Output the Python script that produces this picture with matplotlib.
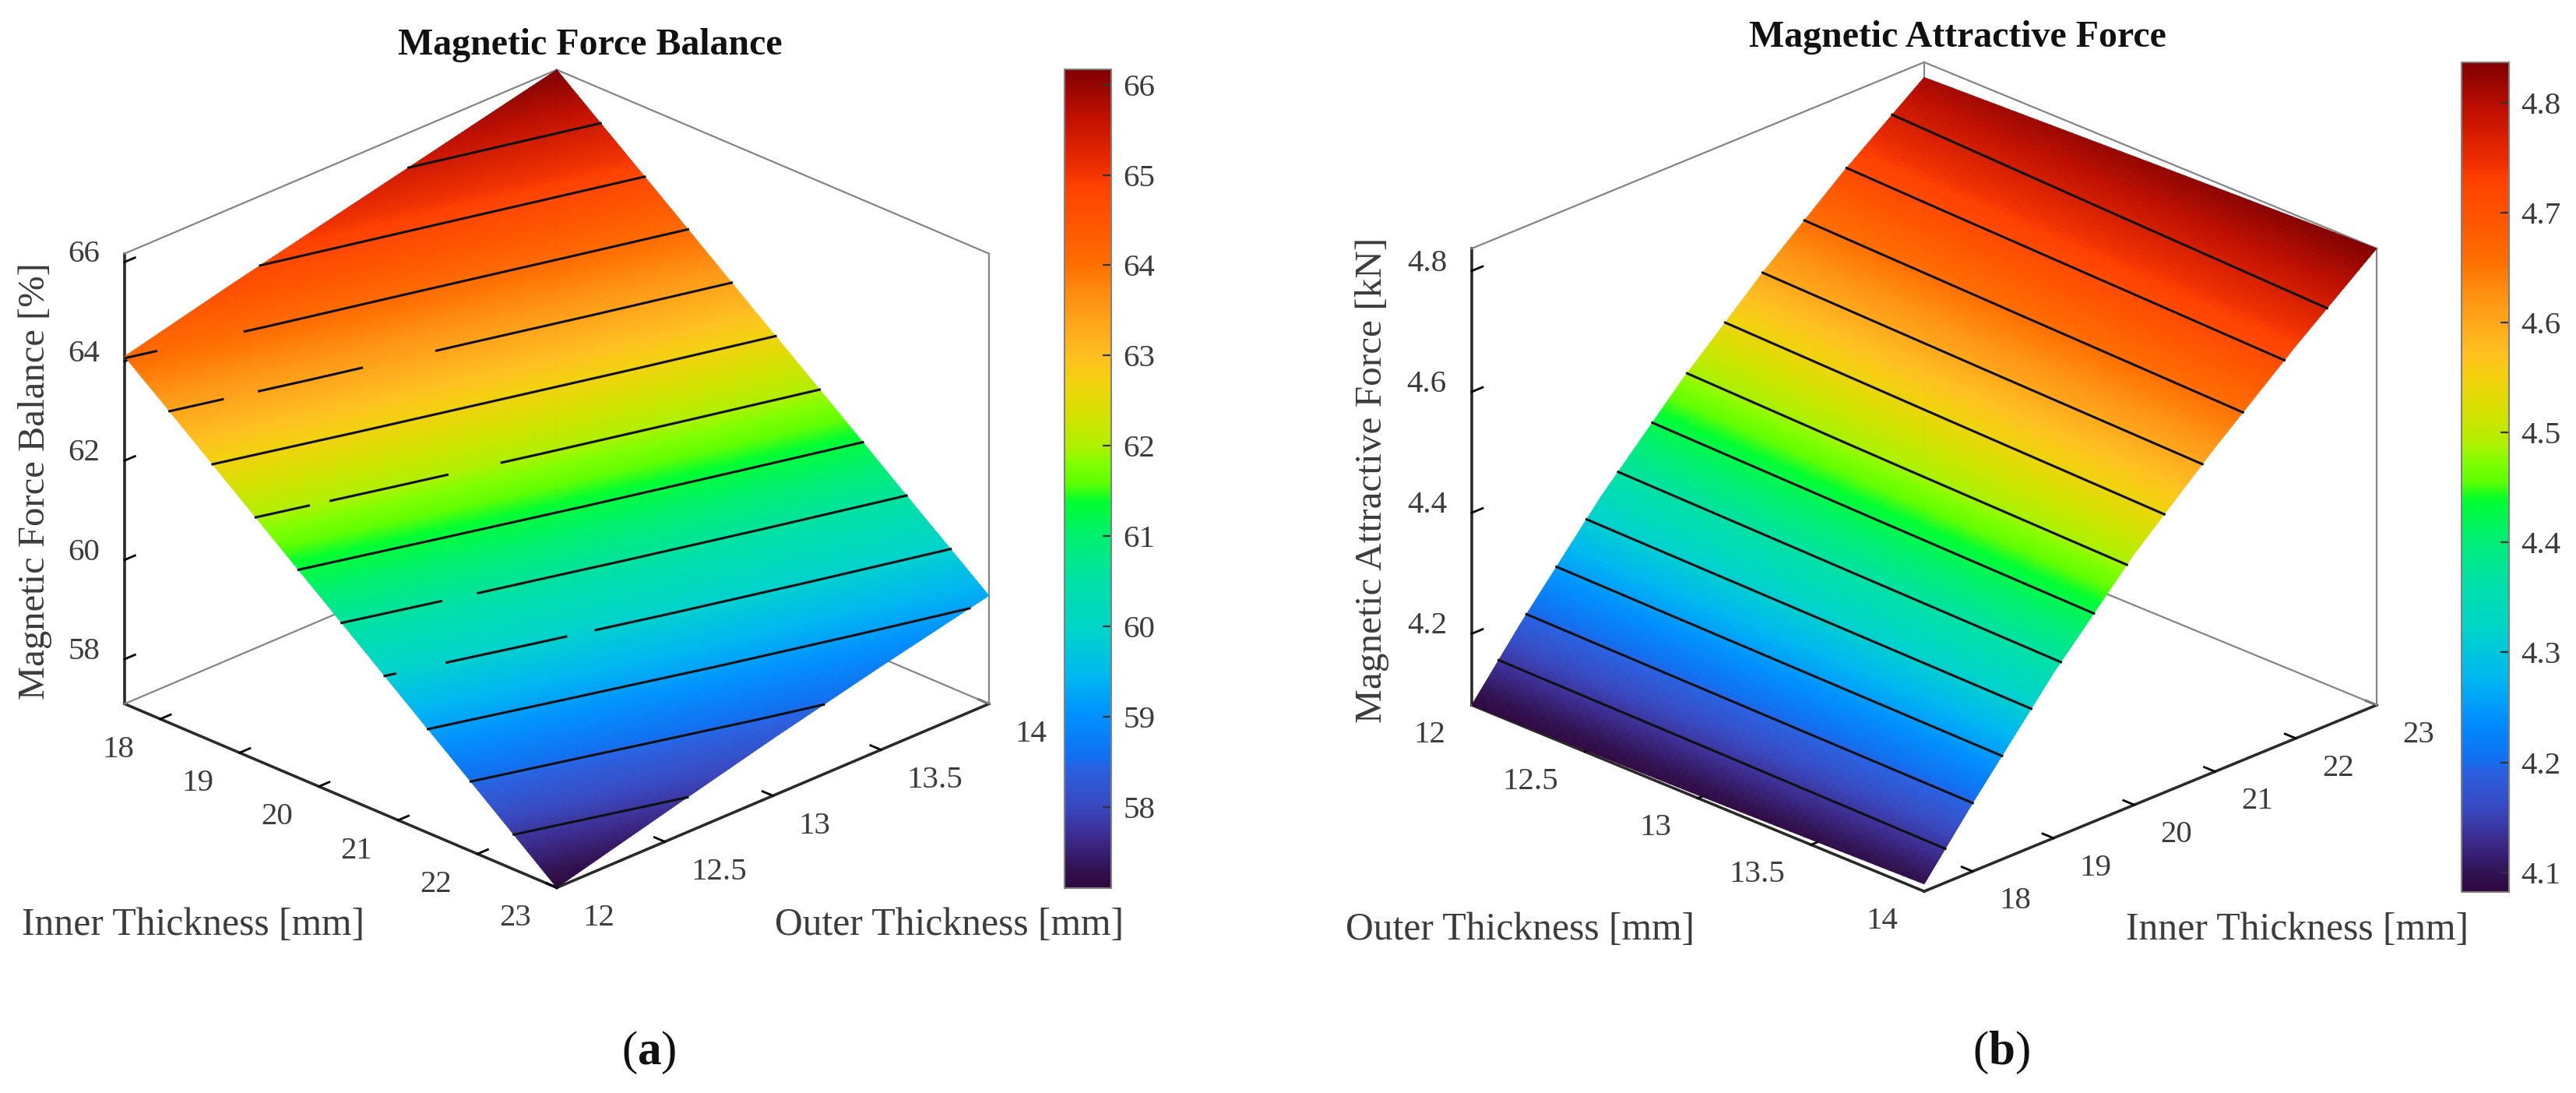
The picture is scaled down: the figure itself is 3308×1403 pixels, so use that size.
import numpy as np
import matplotlib
matplotlib.use('Agg')
import matplotlib.pyplot as plt
from matplotlib.cm import ScalarMappable
from matplotlib.colors import LinearSegmentedColormap, Normalize
from matplotlib.tri import LinearTriInterpolator, Triangulation, UniformTriRefiner
from mpl_toolkits.mplot3d import proj3d
import contourpy

W, H = 3308, 1403
TEXT = '#3c3c3c'

plt.rcParams['font.family'] = ['Liberation Serif', 'DejaVu Serif']
plt.rcParams['mathtext.fontset'] = 'custom'
plt.rcParams['mathtext.rm'] = 'Liberation Serif'
plt.rcParams['mathtext.bf'] = 'Liberation Serif:bold'

cmap_pos = [0, .02, .063, .099, .145, .16, .209, .259, .318, .373, .429, .472, .495, .518,
            .54, .583, .622, .649, .714, .76, .812, .861, .877, .943, 1]
cmap_col = ['#300840', '#30104f', '#3c2c90', '#3848c0', '#2a60e0', '#1070f0', '#0090ff', '#00b8f0',
            '#00d5c8', '#00e0a8', '#00f070', '#00ff30', '#60ff00', '#80ff00', '#b0f000', '#d8e000',
            '#f5d010', '#ffc020', '#ff9515', '#ff7000', '#ff5500', '#ff4000', '#f03000', '#c00f00', '#800000']

# panel a
inner_a = [17.55, 18, 19, 20, 21, 22, 23]
outer_a = [12, 12.5, 13, 13.5, 14]
balance = [[64.10, 63.53, 62.24, 60.96, 59.67, 58.39, 57.10],
           [64.64, 64.07, 62.79, 61.51, 60.24, 58.96, 57.68],
           [65.15, 64.58, 63.31, 62.05, 60.78, 59.52, 58.25],
           [65.66, 65.09, 63.83, 62.57, 61.30, 60.04, 58.78],
           [66.17, 65.60, 64.34, 63.07, 61.81, 60.54, 59.28]]
levels_a = [57.80, 58.50, 59.19, 59.89, 60.59, 61.29, 61.98, 62.68, 63.38, 64.08, 64.77, 65.47]
# stretches of outer thickness where the contour drops behind the surface
gaps_a = {59.89: [(12.037, 12.217), (12.634, 12.738)],
          60.59: [(12.349, 12.478)],
          61.98: [(12.187, 12.264), (12.675, 12.867)],
          63.38: [(12.188, 12.316), (12.681, 12.947)],
          64.08: [(12.107, 12.419)]}

# panel b
outer_b = [12, 13, 14]
inner_b = [17.4, 18, 19, 20, 21, 22, 23]
attract = [[4.082, 4.087, 4.094],
           [4.183, 4.189, 4.195],
           [4.339, 4.347, 4.355],
           [4.476, 4.487, 4.497],
           [4.599, 4.609, 4.618],
           [4.711, 4.721, 4.731],
           [4.812, 4.825, 4.837]]
levels_b = [4.138, 4.195, 4.253, 4.311, 4.368, 4.426, 4.484, 4.542, 4.599, 4.657, 4.715, 4.772]

cmap = LinearSegmentedColormap.from_list('force', list(zip(cmap_pos, cmap_col)), N=512)


def px_text(fig, x, y, s, **kw):
    kw.setdefault('color', TEXT)
    kw.setdefault('ha', 'center')
    kw.setdefault('va', 'center')
    return fig.text(x / W, 1 - y / H, s, **kw)


def fit_axes(fig, ax, left, right, top, bottom):
    # scale and move the square 3d axes until its box lands on the wanted pixels
    xl, yl, zl = ax.get_xlim(), ax.get_ylim(), ax.get_zlim()
    size = 1500.0
    cx, cy = (left + right) / 2, H - (top + bottom) / 2
    for _ in range(3):
        ax.set_position([(cx - size / 2) / W, (cy - size / 2) / H, size / W, size / H])
        ax.apply_aspect()
        M = ax.get_proj()
        pts = []
        for a, b, c in [(xl[0], yl[0], zl[0]), (xl[1], yl[1], zl[0]), (xl[0], yl[1], zl[1]), (xl[1], yl[0], zl[0])]:
            u, v, _w = proj3d.proj_transform(a, b, c, M)
            pts.append(ax.transData.transform((u, v)))
        pts = np.array(pts)
        size *= (right - left) / (pts[1, 0] - pts[0, 0])
        cx += (left + right) / 2 - (pts[0, 0] + pts[1, 0]) / 2
        cy += (H - (top + bottom) / 2) - (pts[2, 1] + pts[3, 1]) / 2


def visible_runs(line, gaps):
    if line[0, 1] > line[-1, 1]:
        line = line[::-1]
    x, y = line[:, 0], line[:, 1]
    edges = [y[0]] + [v for g in gaps for v in g] + [y[-1]]
    runs = []
    for lo, hi in zip(edges[::2], edges[1::2]):
        inside = (y > lo) & (y < hi)
        runs.append((np.r_[np.interp(lo, y, x), x[inside], np.interp(hi, y, x)],
                     np.r_[lo, y[inside], hi]))
    return runs


def draw_panel(fig, xs, ys, zs, levels, gaps, box, ticks_x, labels_x, ticks_y, labels_y,
               ticks_z, labels_z, elev, z_aspect, pads):
    zs = np.array(zs)
    zmin, zmax = zs.min(), zs.max()
    ax = fig.add_subplot(projection='3d', computed_zorder=False, proj_type='ortho')
    ax.patch.set_visible(False)
    ax.view_init(elev=elev, azim=-45)
    ax.set_box_aspect((1, 1, z_aspect))
    ax.set_xlim(xs[0], xs[-1], view_margin=0)
    ax.set_ylim(ys[0], ys[-1], view_margin=0)
    ax.set_zlim(zmin, zmax, view_margin=0)
    ax.grid(False)
    fit_axes(fig, ax, *box)

    # back edges of the box
    edge = dict(color='#858585', lw=1.6, zorder=1)
    ax.plot([xs[0], xs[0]], [ys[0], ys[-1]], [zmax, zmax], **edge)
    ax.plot([xs[0], xs[-1]], [ys[-1], ys[-1]], [zmax, zmax], **edge)
    ax.plot([xs[-1], xs[-1]], [ys[-1], ys[-1]], [zmin, zmax], **edge)
    ax.plot([xs[0], xs[0]], [ys[-1], ys[-1]], [zmin, zmax], **edge)
    ax.plot([xs[0], xs[-1]], [ys[-1], ys[-1]], [zmin, zmin], **edge)
    ax.plot([xs[0], xs[0]], [ys[0], ys[-1]], [zmin, zmin], **edge)

    gx, gy = np.meshgrid(xs, ys)
    tri = Triangulation(gx.ravel(), gy.ravel())
    fine, fine_z = UniformTriRefiner(tri).refine_field(
        zs.ravel(), triinterpolator=LinearTriInterpolator(tri, zs.ravel()), subdiv=5)
    surf = ax.plot_trisurf(fine, fine_z, cmap=cmap, vmin=zmin, vmax=zmax, shade=False,
                           linewidth=0, antialiased=False, zorder=2)
    surf.set_edgecolor('face')
    surf.set_linewidth(0.5)
    surf.set_antialiased(True)

    gen = contourpy.contour_generator(x=xs, y=ys, z=zs)
    for level in levels:
        for line in gen.lines(level):
            for rx, ry in visible_runs(line, gaps.get(level, [])):
                ax.plot(rx, ry, np.full(len(rx), level), color='#101010', lw=2.2, zorder=3)

    for axis, ticks, labels, pad, ha in [(ax.xaxis, ticks_x, labels_x, pads[0], 'right'),
                                         (ax.yaxis, ticks_y, labels_y, pads[1], 'left'),
                                         (ax.zaxis, ticks_z, labels_z, pads[2], 'center')]:
        axis.set_ticks(ticks)
        axis.set_ticklabels(labels, fontsize=29.5, color=TEXT)
        axis.set_pane_color((1, 1, 1, 0))
        axis.pane.set_edgecolor((1, 1, 1, 0))
        axis.line.set_color('#2a2a2a')
        axis.line.set_linewidth(2.6)
        axis._axinfo['tick']['linewidth'][True] = 2.0
        axis._axinfo['tick']['color'] = '#2a2a2a'
        axis._axinfo['tick']['inward_factor'] = 0
        axis._axinfo['tick']['outward_factor'] = .3
        axis.set_tick_params(pad=pad)
        for tick in axis.get_major_ticks():
            tick.label1.set_ha(ha)
            tick.label1.set_va('baseline')
    ax.zaxis.set_ticks_position('lower')
    return ax, zmin, zmax


def add_bar(fig, left, right, top, bottom, zmin, zmax, ticks, labels):
    cax = fig.add_axes([left / W, 1 - bottom / H, (right - left) / W, (bottom - top) / H])
    cb = fig.colorbar(ScalarMappable(Normalize(zmin, zmax), cmap), cax=cax)
    cb.set_ticks(ticks, labels=labels)
    cb.outline.set_edgecolor('#808080')
    cb.outline.set_linewidth(1.5)
    cax.tick_params(direction='in', length=8, width=1.6, color='#333333', pad=11,
                    labelsize=29.5, labelcolor=TEXT)


fig = plt.figure(figsize=(W / 100, H / 100), dpi=100, facecolor='white')

ax_a, min_a, max_a = draw_panel(fig, inner_a, outer_a, balance, levels_a, gaps_a,
                                (160, 1270, 89, 1140),
                                [18, 19, 20, 21, 22, 23], ['18', '19', '20', '21', '22', '23'],
                                [12, 12.5, 13, 13.5, 14], ['12', '12.5', '13', '13.5', '14'],
                                [58, 60, 62, 64, 66], ['58', '60', '62', '64', '66'],
                                25.16, .8135, (20, 20, 14))
add_bar(fig, 1367, 1427, 89, 1140, min_a, max_a,
        [58, 59, 60, 61, 62, 63, 64, 65, 66], ['58', '59', '60', '61', '62', '63', '64', '65', '66'])

ax_b, min_b, max_b = draw_panel(fig, outer_b, inner_b, attract, levels_b, {},
                                (1890, 3052, 80, 1144),
                                [12, 12.5, 13, 13.5, 14], ['12', '12.5', '13', '13.5', '14'],
                                [18, 19, 20, 21, 22, 23], ['18', '19', '20', '21', '22', '23'],
                                [4.2, 4.4, 4.6, 4.8], ['4.2', '4.4', '4.6', '4.8'],
                                24.3, .7826, (20, 20, 16))
add_bar(fig, 3161, 3222, 80, 1145, min_b, max_b,
        [4.1, 4.2, 4.3, 4.4, 4.5, 4.6, 4.7, 4.8], ['4.1', '4.2', '4.3', '4.4', '4.5', '4.6', '4.7', '4.8'])

px_text(fig, 758, 58, 'Magnetic Force Balance', fontsize=34.5, fontweight='bold', color='#111111')
px_text(fig, 2514, 48, 'Magnetic Attractive Force', fontsize=34.5, fontweight='bold', color='#111111')
px_text(fig, 248, 1188, 'Inner Thickness [mm]', fontsize=35.7)
px_text(fig, 1219, 1188, 'Outer Thickness [mm]', fontsize=35.7)
px_text(fig, 45, 618, 'Magnetic Force Balance [%]', fontsize=35, rotation=90)
px_text(fig, 1952, 1194, 'Outer Thickness [mm]', fontsize=35.7)
px_text(fig, 2950, 1194, 'Inner Thickness [mm]', fontsize=35.7)
px_text(fig, 1762, 616, 'Magnetic Attractive Force [kN]', fontsize=35.5, rotation=90)
px_text(fig, 833, 1351, r'($\mathbf{a}$)', fontsize=44, color='#111111')
px_text(fig, 2570, 1351, r'($\mathbf{b}$)', fontsize=44, color='#111111')

fig.savefig('out.png', dpi=100)
